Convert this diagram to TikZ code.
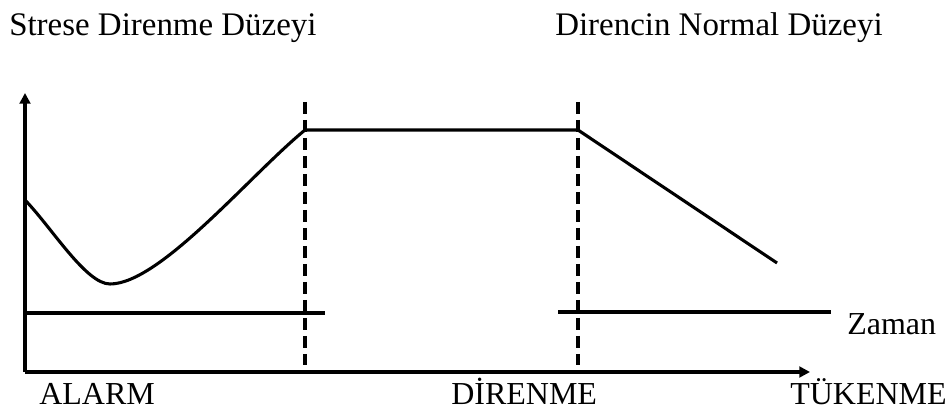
\documentclass[tikz,border=0pt]{standalone}
\usepackage{fontspec}
\setmainfont{Liberation Serif}
\usetikzlibrary{arrows.meta}
\tikzset{
  axis/.style={line width=2.6pt,-{Triangle[length=8pt,width=8pt]}},
  curve/.style={line width=2.3pt},
  phase/.style={line width=2.3pt,dash pattern=on 9pt off 4.5pt},
  lbl/.style={anchor=base west,inner sep=0pt,font=\fontsize{24}{28}\selectfont},
  title/.style={lbl,font=\fontsize{24.7}{29}\selectfont}
}
\begin{document}
\begin{tikzpicture}[x=0.75pt,y=0.75pt]
\useasboundingbox (0,0) rectangle (952,410);
% axes
\coordinate (o) at (25,38);
\coordinate (ytop) at (25,317);
\coordinate (xend) at (810,38);
\draw[axis] (o) -- (ytop);
\draw[axis] (o) -- (xend);

% resistance level
\coordinate (start) at (25,210);
\coordinate (low) at (110,126);
\coordinate (peak) at (305,280);
\coordinate (drop) at (578,280);
\coordinate (stop) at (777,147);
\draw[curve,line join=round] (start) .. controls (52,182) and (86,126) .. (low)
  .. controls (160,126) and (250,235) .. (peak) -- (drop) -- (stop);

% normal level
\coordinate (n1) at (25,97);
\coordinate (n2) at (325,97);
\coordinate (n3) at (558,98);
\coordinate (n4) at (831,98);
\draw[curve] (n1) -- (n2);
\draw[curve] (n3) -- (n4);

% phase borders
\foreach \x/\nm in {305/a,578/b}
{
\coordinate (\nm top) at (\x,308);
\coordinate (\nm bot) at (\x,45);
\draw[phase] (\nm top) -- (\nm bot);
}

% labels
\node[title] (stres) at (9,374) {Strese Direnme Düzeyi};
\node[title] (normal) at (555,374) {Direncin Normal Düzeyi};
\node[lbl] (zaman) at (847,75) {Zaman};
\node[lbl] (alarm) at (39,5) {ALARM};
\node[lbl] (diren) at (451,5) {DİRENME};
\node[lbl] (tuken) at (790,5) {TÜKENME};
\end{tikzpicture}
\end{document}
